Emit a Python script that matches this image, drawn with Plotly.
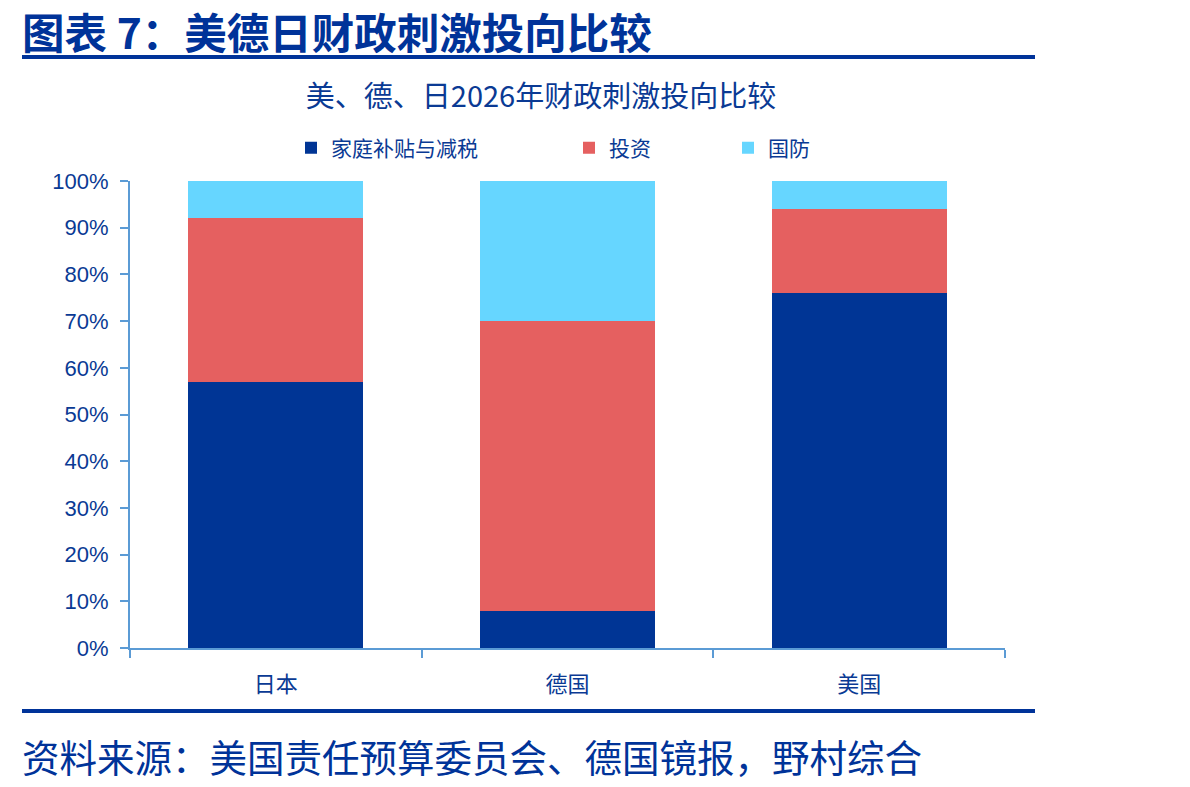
import plotly.graph_objects as go

categories = ["日本", "德国", "美国"]
household = [57, 8, 76]
investment = [35, 62, 18]
defense = [8, 30, 6]
series_names = ["家庭补贴与减税", "投资", "国防"]
colors = ["#003595", "#E56060", "#66D6FF"]
y_ticks = [0, 10, 20, 30, 40, 50, 60, 70, 80, 90, 100]
y_ticktext = [f"{v}%" for v in y_ticks]

TXT = "#0a3a94"
FONT = "Liberation Sans, Arial, Noto Sans CJK SC, sans-serif"
CJK = "Noto Sans CJK SC, sans-serif"

L, R, T, B = 130, 1005, 181, 648
W, H = 1190, 787
pw, ph = R - L, B - T

def px(x):
    return (x - L) / pw

def py(y):
    return (B - y) / ph

legend_ids = ["legend", "legend2", "legend3"]
legend_marker_px = [308, 586, 745]

fig = go.Figure()
for name, vals, c, lid in zip(series_names, [household, investment, defense], colors, legend_ids):
    fig.add_trace(go.Bar(x=categories, y=vals, name=name, marker_color=c,
                         marker_line_width=0, legend=lid))

legend_layout = {}
for lid, mx in zip(legend_ids, legend_marker_px):
    legend_layout[lid] = dict(orientation="h", x=px(mx - 17), xanchor="left",
                              y=py(148), yanchor="middle",
                              font=dict(family=CJK, size=21, color=TXT),
                              itemclick=False, bgcolor="rgba(0,0,0,0)")

fig.update_layout(
    width=W, height=H,
    margin=dict(l=L, r=W - R, t=T, b=H - B, pad=0),
    paper_bgcolor="white", plot_bgcolor="white",
    barmode="stack", bargap=0.4,
    font=dict(family=FONT, color=TXT, size=21),
    title=dict(text="美、德、日2026年财政刺激投向比较", x=541 / W, xanchor="center",
               y=1 - 97 / H, yanchor="middle",
               font=dict(family=CJK, size=29, color=TXT)),
    showlegend=True,
    **legend_layout,
)
fig.update_yaxes(range=[0, 100], tickvals=y_ticks, ticktext=y_ticktext,
                 showgrid=False, zeroline=False,
                 showline=True, linecolor="#5B9BD5", linewidth=2,
                 ticks="outside", ticklen=8, tickcolor="#5B9BD5", tickwidth=2,
                 ticklabelstandoff=7,
                 tickfont=dict(family=FONT, size=22, color=TXT), fixedrange=True)
fig.update_xaxes(showgrid=False, showline=True, linecolor="#5B9BD5", linewidth=2,
                 ticks="outside", tickson="boundaries", ticklen=8,
                 tickcolor="#5B9BD5", tickwidth=2, ticklabelstandoff=16,
                 tickfont=dict(family=CJK, size=22, color=TXT), fixedrange=True)

# header line and footer line
for yy in [57, 711]:
    fig.add_shape(type="line", xref="paper", yref="paper",
                  x0=px(22), x1=px(1035), y0=py(yy), y1=py(yy),
                  line=dict(color="#003399", width=4))

fig.add_annotation(text="<b>图表 7：美德日财政刺激投向比较</b>", xref="paper", yref="paper",
                   x=px(20), y=py(30), xanchor="left", yanchor="middle", showarrow=False,
                   font=dict(family=CJK, size=42.5, color="#003399"))
fig.add_annotation(text="资料来源：美国责任预算委员会、德国镜报，野村综合", xref="paper", yref="paper",
                   x=px(20), y=py(755), xanchor="left", yanchor="middle", showarrow=False,
                   font=dict(family=CJK, size=37.5, color="#003399"))

fig.write_html("out.html")
